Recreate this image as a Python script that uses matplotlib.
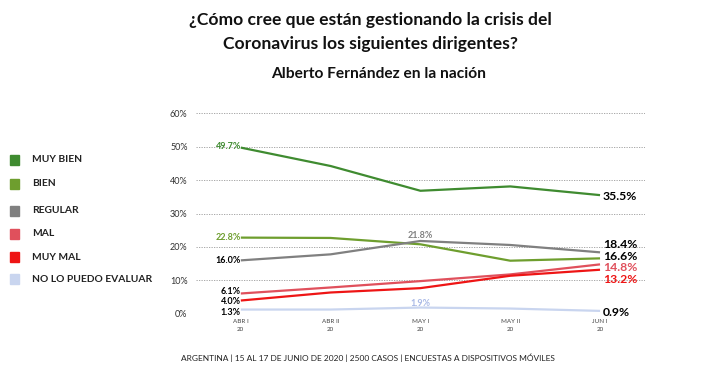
import matplotlib.pyplot as plt
from matplotlib.patches import Rectangle

periods = ['ABR I\n20', 'ABR II\n20', 'MAY I\n20', 'MAY II\n20', 'JUN I\n20']

muy_bien = [49.7, 44.2, 36.8, 38.1, 35.5]
bien = [22.8, 22.7, 20.8, 15.9, 16.6]
regular = [16.0, 17.8, 21.8, 20.6, 18.4]
mal = [6.1, 7.9, 9.8, 11.8, 14.8]
muy_mal = [4.0, 6.4, 7.7, 11.4, 13.2]
no_evalua = [1.3, 1.3, 1.9, 1.6, 0.9]

names = ['MUY BIEN', 'BIEN', 'REGULAR', 'MAL', 'MUY MAL', 'NO LO PUEDO EVALUAR']
colors = ['#3f8b30', '#6e9e2e', '#808080', '#e0505c', '#ee1515', '#c9d5ef']
series = [muy_bien, bien, regular, mal, muy_mal, no_evalua]

plt.rcParams['font.family'] = ['Lato', 'DejaVu Sans']

fig = plt.figure(figsize=(7.15, 3.65), dpi=100)
ax = fig.add_axes([0.274, 0.140, 0.628, 0.550])

x = list(range(len(periods)))
for vals, c in zip(series, colors):
    ax.plot(x, vals, color=c, lw=1.6, solid_capstyle='butt')

ax.set_xlim(-0.5, 4.5)
ax.set_ylim(0, 60)
ax.set_yticks(range(0, 61, 10))
ax.set_yticklabels([f'{v}%' for v in range(0, 61, 10)], fontsize=6.5, color='#333333')
ax.set_xticks(x)
ax.set_xticklabels(periods, fontsize=4.5, color='#444444', linespacing=1.6)
ax.tick_params(length=0, pad=6)
ax.tick_params(axis='x', pad=4)
for s in ax.spines.values():
    s.set_visible(False)
ax.yaxis.grid(True, ls=(0, (1.5, 1.5)), color='#9a9a9a', lw=0.6)
ax.set_axisbelow(True)

# start labels
start_lbl = [(muy_bien[0], 49.9, colors[0]), (bien[0], 22.8, colors[1]),
             (regular[0], 16.1, 'black'), (mal[0], 6.8, 'black'),
             (muy_mal[0], 3.6, 'black'), (no_evalua[0], 0.5, 'black')]
for v, ypos, c in start_lbl:
    ax.text(0.0, ypos, f'{v:.1f}%', ha='right', va='center', fontsize=6.5,
            fontweight='bold', color=c)

ax.text(2, 23.5, f'{regular[2]:.1f}%', ha='center', va='center', fontsize=6.5,
        fontweight='bold', color='#808080')
ax.text(2, 3.0, f'{no_evalua[2]:.1f}%', ha='center', va='center', fontsize=6.5,
        fontweight='bold', color='#a9b9e6')

# end labels
end_lbl = [(muy_bien[-1], 35.0, 'black'), (regular[-1], 20.6, 'black'),
           (bien[-1], 17.2, 'black'), (mal[-1], 13.8, '#e0505c'),
           (muy_mal[-1], 10.4, '#ee1515'), (no_evalua[-1], 0.5, 'black')]
for v, ypos, c in end_lbl:
    ax.text(4.03, ypos, f'{v:.1f}%', ha='left', va='center', fontsize=8.8,
            fontweight='bold', color=c)

# legend
leg_y = [160, 184, 211, 234, 257, 279]
for n, c, yp in zip(names, colors, leg_y):
    fy = 1 - yp / 365
    fig.patches.append(Rectangle((10 / 715, fy - 5 / 365), 9 / 715, 10 / 365,
                                 transform=fig.transFigure, color=c))
    fig.text(32 / 715, fy, n, ha='left', va='center', fontsize=7.4,
             fontweight='bold', color='#222222')

fig.text(0.518, 1 - 20 / 365, '¿Cómo cree que están gestionando la crisis del',
         ha='center', va='center', fontsize=12.6, fontweight='bold', color='#111111')
fig.text(0.518, 1 - 44 / 365, 'Coronavirus los siguientes dirigentes?',
         ha='center', va='center', fontsize=12.6, fontweight='bold', color='#111111')
fig.text(0.530, 1 - 74 / 365, 'Alberto Fernández en la nación',
         ha='center', va='center', fontsize=11.2, fontweight='bold', color='#111111')
fig.text(0.514, 1 - 358 / 365,
         'ARGENTINA | 15 AL 17 DE JUNIO DE 2020 | 2500 CASOS | ENCUESTAS A DISPOSITIVOS MÓVILES',
         ha='center', va='center', fontsize=6.0, color='#222222')

fig.savefig('out.png', dpi=100, facecolor='white')
